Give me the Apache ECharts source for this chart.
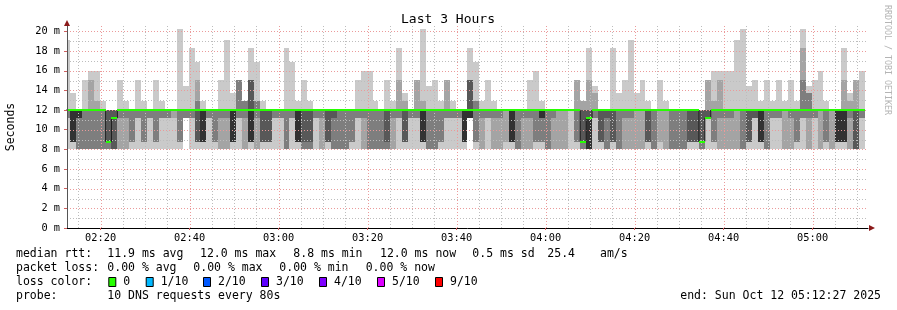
<!DOCTYPE html>
<html><head><meta charset="utf-8">
<script src="https://cdn.jsdelivr.net/npm/echarts@6/dist/echarts.min.js"></script>
<style>html,body{margin:0;padding:0;background:#fff}#c{width:897px;height:310px}</style>
</head><body><div id="c"></div>
<script>
// ---- time axis (minutes since 00:00) ----
const viewStart = 132.45;          // 02:12:27
const viewEnd = 312.45;            // 05:12:27
const firstStepStart = 131.7833;   // start of the first (partial) 80 s step
const stepMinutes = 80 / 60;

// ---- 10 sorted ping times per step (ms) ----
const pingSteps = [
"8 11.2 11.2 12 12 12 12 12 12 19.1",
"8 8.8 8.8 8.8 8.8 12 12 12 12 13.7",
"8 8 8 11.2 11.2 12 12 12 12 12",
"8 8 8 12 12 12 12 12 12 15.1",
"8 8 8 12 12 12 12 12 15.1 16",
"8 8 8 12 12 12 12 12 12.9 16",
"8 8 8 12 12 12 12 12 12 12.9",
"8 8 8 8.8 8.8 8.8 12 12 12 12",
"8 8 8 8 11.2 11.2 12 12 12 12",
"8 8 11.2 12 12 12 12 12 12 15.1",
"8 8 11.2 12 12 12 12 12 12 12.9",
"8 8.8 8.8 12 12 12 12 12 12 12",
"8 11.2 11.2 12 12 12 12 12 12 15.1",
"8 8.8 8.8 12 12 12 12 12 12 12.9",
"8 11.2 11.2 12 12 12 12 12 12 12",
"8 8.8 8.8 12 12 12 12 12 12 15.1",
"8 11.2 11.2 12 12 12 12 12 12 12.9",
"8 11.2 11.2 12 12 12 12 12 12 12",
"8 11.2 12 12 12 12 12 12 12 12",
"8 8.8 8.8 12 12 12 12 12 12 20.3",
"11.2 11.2 11.2 12 12 12 12 12 12 14.5",
"8 11.2 11.2 12 12 12 12 12 12 18.3",
"8 8.8 8.8 8.8 12 12 12 12.9 15.1 16.9",
"8 8.8 8.8 8.8 8.8 12 12 12 12 12.9",
"8 11.2 11.2 12 12 12 12 12 12 12",
"8 8.8 8.8 12 12 12 12 12 12 12",
"8 8 11.2 12 12 12 12 12 12 15.1",
"8 8 11.2 12 12 12 12 12 12 19.1",
"8 8.8 8.8 8.8 8.8 12 12 12 12 13.7",
"8 11.2 11.2 12 12 12 12 15.1 15.1 15.1",
"8 8 11.2 12 12 12 12 12.9 12.9 12.9",
"8 8.8 8.8 8.8 8.8 12 15.1 15.1 15.1 18.3",
"8 8 11.2 12 12 12 12 12.9 12.9 16.9",
"8 8.8 8.8 8.8 12 12 12 12 12 12.9",
"8 8.8 8.8 8.8 12 12 12 12 12 12",
"8 11.2 11.2 12 12 12 12 12 12 12",
"8 11.2 11.2 12 12 12 12 12 12 12",
"8 8 8 12 12 12 12 12 12 18.3",
"8 11.2 11.2 12 12 12 12 12 12 16.9",
"8 8.8 8.8 8.8 8.8 12 12 12 12 12.9",
"8 8 8 8.8 12 12 12 12 12 15.1",
"8 8 8 8.8 12 12 12 12 12 12.9",
"8 11.2 11.2 12 12 12 12 12 12 12",
"8 8 11.2 12 12 12 12 12 12 12",
"8 8.8 8.8 8.8 12 12 12 12 12 12",
"8 8 8 11.2 12 12 12 12 12 12",
"8 8 8 12 12 12 12 12 12 12",
"8 8 8 12 12 12 12 12 12 12",
"8 8.8 8.8 12 12 12 12 12 12 12",
"8 11.2 11.2 12 12 12 12 12 12 15.1",
"8 8 11.2 12 12 12 12 12 12 16",
"8 8 8 12 12 12 12 12 12 16",
"8 8 8 12 12 12 12 12 12 12.9",
"8 8 8 12 12 12 12 12 12 12",
"8 8 8 8.8 12 12 12 12 12 15.1",
"8 8 11.2 12 12 12 12 12 12 12.9",
"8 11.2 11.2 12 12 12 12 12 15.1 18.3",
"8 8.8 8.8 8.8 12 12 12 12 12.9 13.7",
"8 11.2 11.2 12 12 12 12 12 12 12",
"8 11.2 11.2 12 12 12 12 12 15.1 15.1",
"8 8.8 8.8 8.8 8.8 12 12 12 12.9 20.3",
"8 8 8 12 12 12 12 12 12 14.5",
"8 8 8 12 12 12 12 12 12 15.1",
"8 8.8 8.8 12 12 12 12 12 12 12.9",
"8 11.2 11.2 12 12 12 12 12 15.1 15.1",
"8 11.2 11.2 12 12 12 12 12 12 12.9",
"8 11.2 11.2 12 12 12 12 12 12 12",
"8 8.8 8.8 8.8 8.8 12 12 12 12 12",
"11.2 11.2 11.2 11.2 11.2 12 15.1 15.1 15.1 18.3",
"8 8.8 8.8 12 12 12 12 12.9 12.9 16.9",
"8 8 11.2 12 12 12 12 12 12 12.9",
"8 11.2 11.2 12 12 12 12 12 12 15.1",
"8 8 11.2 12 12 12 12 12 12 12.9",
"8 8 11.2 12 12 12 12 12 12 12",
"8 8.8 12 12 12 12 12 12 12 12",
"8 8.8 8.8 8.8 8.8 12 12 12 12 12",
"8 8 8 12 12 12 12 12 12 12",
"8 8 11.2 12 12 12 12 12 12 12",
"8 8 11.2 12 12 12 12 12 12 15.1",
"8 8.8 8.8 12 12 12 12 12 12 16",
"8 8.8 8.8 11.2 11.2 12 12 12 12 12.9",
"8 8 8 12 12 12 12 12 12 12",
"8 8 11.2 12 12 12 12 12 12 12",
"8 8 12 12 12 12 12 12 12 12",
"8 8 12 12 12 12 12 12 12 12",
"8 12 12 12 12 12 12 12 12 12",
"8 8.8 8.8 12 12 12 12 12 15.1 15.1",
"8 8 8 8.8 8.8 8.8 12 12 12.9 12.9",
"8 8 8 8 8 11.2 12 12 15.1 18.3",
"8 11.2 11.2 12 12 12 12 12 13.7 14.5",
"8 8.8 8.8 8.8 12 12 12 12 12 12",
"8 8 8 11.2 12 12 12 12 12 12",
"8 8.8 8.8 8.8 12 12 12 12 12 18.3",
"8 8 8 12 12 12 12 12 12 13.7",
"8 8 11.2 12 12 12 12 12 12 15.1",
"8 8 11.2 12 12 12 12 12 12 19.1",
"8 8 12 12 12 12 12 12 12 13.7",
"8 8 12 12 12 12 12 12 12 15.1",
"8 8.8 8.8 8.8 12 12 12 12 12 12.9",
"8 8 8 12 12 12 12 12 12 12",
"8 8.8 12 12 12 12 12 12 12 15.1",
"8 8 12 12 12 12 12 12 12 12.9",
"8 8 8 12 12 12 12 12 12 12",
"8 8 8 12 12 12 12 12 12 12",
"8 8 8 12 12 12 12 12 12 12",
"8 8.8 8.8 8.8 12 12 12 12 12 12",
"8 8.8 8.8 8.8 12 12 12 12 12 12",
"8 8 8 8.8 8.8 8.8 12 12 12 12",
"8 11.2 11.2 11.2 11.2 11.2 12 12 15.1 15.1",
"8 8.8 8.8 12 12 12 12 12 12.9 16",
"8 8 11.2 12 12 12 12 12 15.1 16",
"8 8 11.2 12 12 12 12 12 12 16",
"8 8 11.2 12 12 12 12 12 12 16",
"8 8 12 12 12 12 12 12 12 19.1",
"8 8 8 12 12 12 12 12 12 20.3",
"8 8.8 8.8 8.8 12 12 12 12 12 14.5",
"8 11.2 11.2 11.2 12 12 12 12 12 15.1",
"8 8.8 8.8 8.8 8.8 12 12 12 12 12.9",
"8 8 8 12 12 12 12 12 12 15.1",
"8 11.2 11.2 12 12 12 12 12 12 12.9",
"8 11.2 11.2 12 12 12 12 12 12 15.1",
"8 8 12 12 12 12 12 12 12 12.9",
"8 8 11.2 12 12 12 12 12 12 15.1",
"8 8.8 8.8 12 12 12 12 12 12 12.9",
"8 11.2 11.2 12 12 12 12 15.1 18.3 20.3",
"8 8 11.2 12 12 12 12 13.7 13.7 14.5",
"8 11.2 11.2 12 12 12 12 12 12 15.1",
"8 8 12 12 12 12 12 12 12 16",
"8 8.8 8.8 12 12 12 12 12 12 12.9",
"8 8 12 12 12 12 12 12 12 12",
"8 8.8 8.8 8.8 8.8 12 12 12 12 12",
"8 8.8 8.8 8.8 8.8 12 12 12 15.1 18.3",
"8 8 11.2 12 12 12 12 12 12.9 13.7",
"8 8 8 8 12 12 12 12 15.1 15.1",
"8 11.2 11.2 12 12 12 12 12 12 16"
];

// ---- median rtt per step (ms) ----
const medianSteps = [
12,12,12,12,12,12,12,8.8,11.2,12, 12,12,12,12,12,12,12,12,12,12,
12,12,12,12,12,12,12,12,12,12, 12,12,12,12,12,12,12,12,12,12,
12,12,12,12,12,12,12,12,12,12, 12,12,12,12,12,12,12,12,12,12,
12,12,12,12,12,12,12,12,12,12, 12,12,12,12,12,12,12,12,12,12,
12,12,12,12,12,12,12,8.8,11.2,12, 12,12,12,12,12,12,12,12,12,12,
12,12,12,12,12,12,12,8.8,11.2,12, 12,12,12,12,12,12,12,12,12,12,
12,12,12,12,12,12,12,12,12,12, 12,12,12,12,12
];

// ---- ticks ----
const yMajorTicks = [2,4,6,8,10,12,14,16,18,20];
const yMinorTicks = [1,3,5,7,9,11,13,15,17,19];
const xMajorTicks = [140,160,180,200,220,240,260,280,300];
const xMinorTicks = [135,145,150,155,165,170,175,185,190,195,205,210,215,225,230,235,245,250,255,265,270,275,285,290,295,305,310];

// ---- legend texts ----
const rttLine = [["median rtt:",16],["11.9 ms avg",107.3],["12.0 ms max",200],["8.8 ms min",293.3],["12.0 ms now",380],["0.5 ms sd",472.3],["25.4",547.3],["am/s",600]];
const lossLine = [["packet loss:",16],["0.00 % avg",107.3],["0.00 % max",193.3],["0.00 % min",279.3],["0.00 % now",365.7]];
const lossColors = [["0","#26ff00",108.3],["1/10","#00b8ff",145.7],["2/10","#0059ff",203],["3/10","#5e00ff",261],["4/10","#7e00ff",319],["5/10","#dd00ff",377],["9/10","#ff0000",435]];

const bandColors = ['#cacaca','#a4a4a4','#7e7e7e','#585858','#323232'];
const MONO = '"DejaVu Sans Mono", monospace';

// ---- build smoke rectangles ----
const rows = pingSteps.map(s => s.split(' ').map(Number));
const smoke = [];
for (let b = 0; b < 5; b++) {
  rows.forEach((p, k) => {
    const t0 = firstStepStart + k * stepMinutes;
    const lo = p[b], hi = p[9 - b];
    if (hi > lo) smoke.push([t0, t0 + stepMinutes, lo, hi, b]);
  });
}
const medianRects = medianSteps.map((m, k) => {
  const t0 = firstStepStart + k * stepMinutes;
  return [t0, t0 + stepMinutes, m];
});
const medianLine = medianSteps.map((m, k) => [firstStepStart + k * stepMinutes, m]);
medianLine.push([firstStepStart + medianSteps.length * stepMinutes, medianSteps[medianSteps.length - 1]]);

function hhmm(v) {
  const m = Math.round(v);
  return String(Math.floor(m / 60)).padStart(2, '0') + ':' + String(m % 60).padStart(2, '0');
}

function gridSeries(ticks, dir, color) {
  return {
    type: 'custom', z: 6, silent: true, animation: false,
    data: ticks.map(v => [v]),
    renderItem(params, api) {
      const v = api.value(0);
      let a, b;
      if (dir === 'x') { a = api.coord([v, 0]); b = api.coord([v, 20.66]); const x = Math.round(a[0]) + 0.5; a = [x, a[1]]; b = [x, b[1]]; }
      else { a = api.coord([viewStart, v]); b = api.coord([viewEnd, v]); const y = Math.round(a[1]) + 0.5; a = [a[0], y]; b = [b[0], y]; }
      return { type: 'line', shape: { x1: a[0], y1: a[1], x2: b[0], y2: b[1] },
        style: { stroke: color, lineWidth: 1, lineDash: [1, 2] } };
    }
  };
}

const graphics = [];
graphics.push({ type: 'text', x: 448, y: 20, style: { text: 'Last 3 Hours', font: '13px ' + MONO, fill: '#000', align: 'center', verticalAlign: 'middle' } });
graphics.push({ type: 'text', x: 887, y: 5, rotation: -Math.PI / 2, style: { text: 'RRDTOOL / TOBI OETIKER', font: '8.3px ' + MONO, fill: '#b4b4b4', align: 'left', verticalAlign: 'middle' } });
graphics.push({ type: 'text', x: 11, y: 127, rotation: Math.PI / 2, style: { text: 'Seconds', font: '11.5px ' + MONO, fill: '#000', align: 'center', verticalAlign: 'middle' } });
graphics.push({ type: 'polygon', z: 20, shape: { points: [[64, 26], [70, 26], [67, 20]] }, style: { fill: '#8b1a1a' } });
graphics.push({ type: 'polygon', z: 20, shape: { points: [[869, 225], [869, 231], [875, 228]] }, style: { fill: '#8b1a1a' } });
rttLine.forEach(([t, x]) => graphics.push({ type: 'text', x: x, y: 254.5, style: { text: t, font: '11.5px ' + MONO, fill: '#000', verticalAlign: 'middle' } }));
lossLine.forEach(([t, x]) => graphics.push({ type: 'text', x: x, y: 268.5, style: { text: t, font: '11.5px ' + MONO, fill: '#000', verticalAlign: 'middle' } }));
graphics.push({ type: 'text', x: 16, y: 282.5, style: { text: 'loss color:', font: '11.5px ' + MONO, fill: '#000', verticalAlign: 'middle' } });
lossColors.forEach(([t, c, x]) => {
  graphics.push({ type: 'rect', shape: { x: x + 0.5, y: 277.5, width: 7, height: 9 }, style: { fill: c, stroke: '#000', lineWidth: 1 } });
  graphics.push({ type: 'text', x: x + 15, y: 282.5, style: { text: t, font: '11.5px ' + MONO, fill: '#000', verticalAlign: 'middle' } });
});
graphics.push({ type: 'text', x: 16, y: 296.5, style: { text: 'probe:', font: '11.5px ' + MONO, fill: '#000', verticalAlign: 'middle' } });
graphics.push({ type: 'text', x: 107.3, y: 296.5, style: { text: '10 DNS requests every 80s', font: '11.5px ' + MONO, fill: '#000', verticalAlign: 'middle' } });
graphics.push({ type: 'text', x: 881, y: 296.5, style: { text: 'end: Sun Oct 12 05:12:27 2025', font: '11.5px ' + MONO, fill: '#000', align: 'right', verticalAlign: 'middle' } });

const chart = echarts.init(document.getElementById('c'), null, { renderer: 'canvas' });
chart.setOption({
  animation: false,
  backgroundColor: '#ffffff',
  grid: { left: 67, right: 29, top: 25, bottom: 82, containLabel: false, outerBoundsMode: 'none' },
  xAxis: {
    type: 'value', min: viewStart, max: viewEnd, splitNumber: 9, z: 8,
    axisLine: { show: true, lineStyle: { color: '#000', width: 1 } },
    axisTick: { show: true, length: 2, lineStyle: { color: '#d06060' } },
    axisLabel: { formatter: hhmm, showMinLabel: false, showMaxLabel: false, fontFamily: 'DejaVu Sans Mono', fontSize: 10.3, color: '#000', margin: 5 },
    splitLine: { show: false }
  },
  yAxis: {
    type: 'value', min: 0, max: 20.66, interval: 2, z: 8,
    axisLine: { show: true, lineStyle: { color: '#555555', width: 1 } },
    axisTick: { show: true, length: 3, lineStyle: { color: '#d06060' } },
    axisLabel: { formatter: v => v + ' m', showMaxLabel: false, fontFamily: 'DejaVu Sans Mono', fontSize: 10.3, color: '#000', margin: 7 },
    splitLine: { show: false }
  },
  graphic: graphics,
  series: [
    {
      type: 'custom', clip: true, z: 2, silent: true, animation: false,
      data: smoke,
      renderItem(params, api) {
        const a = api.coord([api.value(0), api.value(3)]);
        const b = api.coord([api.value(1), api.value(2)]);
        const x0 = Math.round(a[0]), x1 = Math.round(b[0]), y0 = Math.round(a[1]), y1 = Math.round(b[1]);
        return { type: 'rect', shape: { x: x0, y: y0, width: x1 - x0, height: y1 - y0 },
          style: { fill: bandColors[api.value(4)] } };
      }
    },
    gridSeries(xMinorTicks, 'x', '#bdbdbd'),
    gridSeries(yMinorTicks, 'y', '#bdbdbd'),
    gridSeries(xMajorTicks, 'x', '#eb9a9a'),
    gridSeries(yMajorTicks, 'y', '#eb9a9a'),
    {
      type: 'line', step: 'end', data: medianLine, z: 7, symbol: 'none', silent: true, animation: false, clip: true,
      lineStyle: { color: '#202020', width: 1 }
    },
    {
      type: 'custom', clip: true, z: 8, silent: true, animation: false,
      data: medianRects,
      renderItem(params, api) {
        const a = api.coord([api.value(0), api.value(2)]);
        const b = api.coord([api.value(1), api.value(2)]);
        const x0 = Math.round(a[0]), x1 = Math.round(b[0]), y = Math.round(a[1]);
        return { type: 'rect', shape: { x: x0, y: y - 1, width: x1 - x0, height: 2 }, style: { fill: '#26ff00' } };
      }
    }
  ]
});
</script>
</body></html>
